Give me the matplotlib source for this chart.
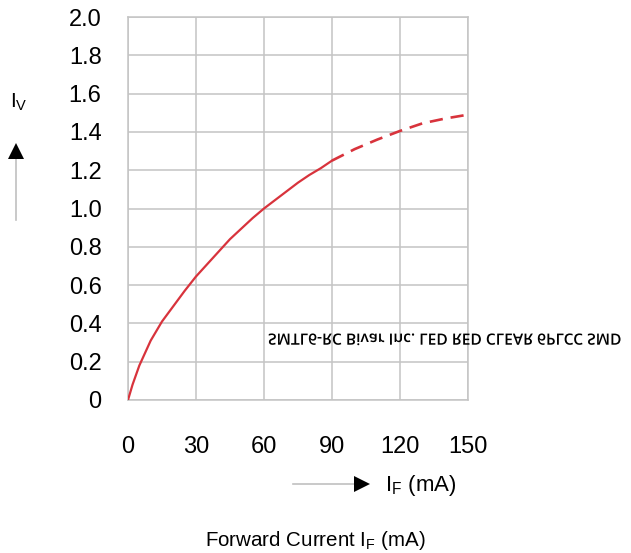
import matplotlib
matplotlib.use("Agg")
import matplotlib.pyplot as plt
import numpy as np
from matplotlib.patheffects import AbstractPathEffect
from matplotlib.transforms import Affine2D

plt.rcParams['font.family'] = ['Liberation Sans', 'DejaVu Sans']
plt.rcParams['mathtext.fontset'] = 'custom'
plt.rcParams['mathtext.rm'] = 'Liberation Sans'

# ── data ──
i_f_solid = [0, 2, 5, 10, 15, 20, 25, 30, 35, 40, 45, 50, 55, 60, 65, 70, 75, 80, 85, 90]
i_v_solid = [0, 0.08, 0.18, 0.31, 0.41, 0.49, 0.57, 0.645, 0.71, 0.775, 0.84, 0.895, 0.95,
             1.0, 1.045, 1.09, 1.135, 1.175, 1.21, 1.25]
i_f_dash = [90, 100, 110, 120, 130, 140, 150]
i_v_dash = [1.25, 1.31, 1.36, 1.405, 1.445, 1.47, 1.49]

x_ticks = [0, 30, 60, 90, 120, 150]
y_ticks = [0, 0.2, 0.4, 0.6, 0.8, 1.0, 1.2, 1.4, 1.6, 1.8, 2.0]
y_labels = ['0', '0.2', '0.4', '0.6', '0.8', '1.0', '1.2', '1.4', '1.6', '1.8', '2.0']

RED = '#d8333c'
GRID = '#c4c4c4'


class FlipV(AbstractPathEffect):
    """Mirror the glyphs top-to-bottom (the watermark is printed flipped)."""
    def draw_path(self, renderer, gc, tpath, affine, rgbFace=None):
        ext = tpath.get_extents()
        cy = (ext.y0 + ext.y1) / 2
        flip = Affine2D().translate(0, -cy).scale(1, -1).translate(0, cy)
        renderer.draw_path(gc, tpath, flip + affine, rgbFace)


W, H = 631, 553
fig = plt.figure(figsize=(W / 100, H / 100), dpi=100)
ax = fig.add_axes([128 / W, 1 - 400 / H, 340 / W, 383 / H])

ax.plot(i_f_solid, i_v_solid, color=RED, lw=1.6, solid_capstyle='round', zorder=3)
ax.plot(i_f_dash, i_v_dash, color=RED, lw=1.9, dashes=(5, 3), zorder=3)

ax.set_xlim(0, 150)
ax.set_ylim(0, 2.0)
ax.set_xticks(x_ticks)
ax.set_yticks(y_ticks)
ax.set_yticklabels(y_labels)
ax.grid(True, color=GRID, lw=1.1)
for s in ax.spines.values():
    s.set_color(GRID)
    s.set_linewidth(1.1)
ax.tick_params(length=0, labelsize=17)
ax.tick_params(axis='x', pad=26)
ax.tick_params(axis='y', pad=19)

# flipped part label over the plot
ax.text(268 / W, 1 - 341 / H, 'SMTL6-RC Bivar Inc. LED RED CLEAR 6PLCC SMD',
        transform=fig.transFigure, fontsize=11.2, family=['Open Sans', 'DejaVu Sans'],
        weight='semibold', ha='left', va='center', color='black',
        path_effects=[FlipV()])

# y axis indicator
fig.text(10 / W, 1 - 102 / H, r'$\mathregular{I_V}$', fontsize=15, ha='left', va='center')
fig.add_artist(plt.Line2D([16 / W, 16 / W], [1 - 220 / H, 1 - 155 / H], color='#c0c0c0', lw=1.2))
fig.add_artist(plt.Line2D([16 / W], [1 - 151 / H], marker='^', ms=11, color='black', mew=0))

# x axis indicator
fig.add_artist(plt.Line2D([293 / W, 358 / W], [1 - 484 / H, 1 - 484 / H], color='#c0c0c0', lw=1.2))
fig.add_artist(plt.Line2D([362 / W], [1 - 484 / H], marker='>', ms=11, color='black', mew=0))
fig.text(385 / W, 1 - 485 / H, r'$\mathregular{I_F}$ (mA)', fontsize=16, ha='left', va='center')

fig.text(315 / W, 1 - 540 / H, r'Forward Current $\mathregular{I_F}$ (mA)', fontsize=14.8,
         ha='center', va='center')

fig.savefig('out.png', dpi=100, facecolor='white')
